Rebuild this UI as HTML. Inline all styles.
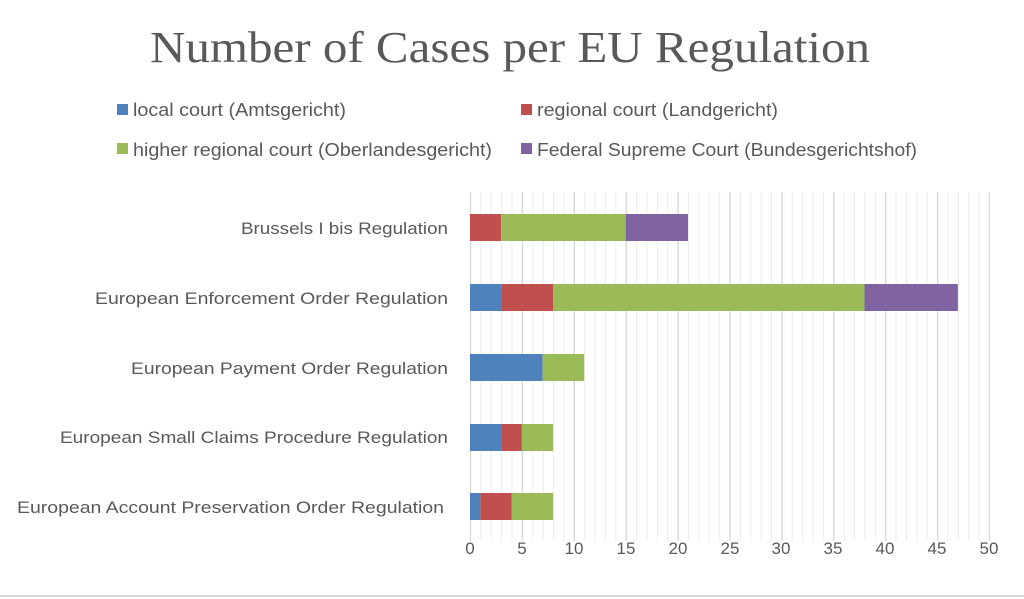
<!DOCTYPE html>
<html><head><meta charset="utf-8"><style>
html,body{margin:0;padding:0;background:#fff;}
svg{display:block;}
text{font-family:"Liberation Sans",sans-serif;fill:#595959;}
</style></head><body>
<svg width="1024" height="599" viewBox="0 0 1024 599" xmlns="http://www.w3.org/2000/svg">
<defs>
<pattern id="mg" x="470" y="0" width="10.38" height="20" patternUnits="userSpaceOnUse">
<rect x="0" y="0" width="1" height="20" fill="#ececec"/>
</pattern>
</defs>
<rect x="0" y="0" width="1024" height="599" fill="#fff"/>
<line x1="0" y1="596" x2="1024" y2="596" stroke="#d9d9d9" stroke-width="2"/>
<text x="510" y="62" text-anchor="middle" font-size="44" textLength="720" lengthAdjust="spacingAndGlyphs" style="font-family:'Liberation Serif',serif">Number of Cases per EU Regulation</text>
<rect x="117" y="104" width="11" height="11" fill="#4f81bd"/>
<text x="133" y="116" font-size="18" textLength="213" lengthAdjust="spacingAndGlyphs">local court (Amtsgericht)</text>
<rect x="521" y="104" width="11" height="11" fill="#c0504d"/>
<text x="537" y="116" font-size="18" textLength="241" lengthAdjust="spacingAndGlyphs">regional court (Landgericht)</text>
<rect x="117" y="143" width="11" height="11" fill="#9bbb59"/>
<text x="133" y="156" font-size="18" textLength="359" lengthAdjust="spacingAndGlyphs">higher regional court (Oberlandesgericht)</text>
<rect x="521" y="143" width="11" height="11" fill="#8064a2"/>
<text x="537" y="156" font-size="18" textLength="380" lengthAdjust="spacingAndGlyphs">Federal Supreme Court (Bundesgerichtshof)</text>

<rect x="469.5" y="192" width="521" height="349" fill="url(#mg)"/>
<g stroke="#d9d9d9" stroke-width="1.4">
<line x1="470.5" y1="192" x2="470.5" y2="541"/>
<line x1="522.4" y1="192" x2="522.4" y2="541"/>
<line x1="574.3" y1="192" x2="574.3" y2="541"/>
<line x1="626.2" y1="192" x2="626.2" y2="541"/>
<line x1="678.1" y1="192" x2="678.1" y2="541"/>
<line x1="730" y1="192" x2="730" y2="541"/>
<line x1="781.9" y1="192" x2="781.9" y2="541"/>
<line x1="833.8" y1="192" x2="833.8" y2="541"/>
<line x1="885.7" y1="192" x2="885.7" y2="541"/>
<line x1="937.6" y1="192" x2="937.6" y2="541"/>
<line x1="989.5" y1="192" x2="989.5" y2="541"/>
</g>

<text x="470" y="554" text-anchor="middle" font-size="17">0</text>
<text x="522" y="554" text-anchor="middle" font-size="17">5</text>
<text x="574" y="554" text-anchor="middle" font-size="17">10</text>
<text x="626" y="554" text-anchor="middle" font-size="17">15</text>
<text x="678" y="554" text-anchor="middle" font-size="17">20</text>
<text x="730" y="554" text-anchor="middle" font-size="17">25</text>
<text x="781" y="554" text-anchor="middle" font-size="17">30</text>
<text x="833" y="554" text-anchor="middle" font-size="17">35</text>
<text x="885" y="554" text-anchor="middle" font-size="17">40</text>
<text x="937" y="554" text-anchor="middle" font-size="17">45</text>
<text x="989" y="554" text-anchor="middle" font-size="17">50</text>

<text x="448" y="234" text-anchor="end" font-size="17" textLength="207" lengthAdjust="spacingAndGlyphs">Brussels I bis Regulation</text>
<text x="448" y="304" text-anchor="end" font-size="17" textLength="353" lengthAdjust="spacingAndGlyphs">European Enforcement Order Regulation</text>
<text x="448" y="374" text-anchor="end" font-size="17" textLength="317" lengthAdjust="spacingAndGlyphs">European Payment Order Regulation</text>
<text x="448" y="443" text-anchor="end" font-size="17" textLength="388" lengthAdjust="spacingAndGlyphs">European Small Claims Procedure Regulation</text>
<text x="444" y="513" text-anchor="end" font-size="17" textLength="427" lengthAdjust="spacingAndGlyphs">European Account Preservation Order Regulation</text>

<rect x="470" y="214" width="31.14" height="27" fill="#c0504d"/>
<rect x="501.14" y="214" width="124.56" height="27" fill="#9bbb59"/>
<rect x="625.7" y="214" width="62.28" height="27" fill="#8064a2"/>

<rect x="470" y="284" width="31.14" height="27" fill="#4f81bd"/>
<rect x="501.14" y="284" width="51.9" height="27" fill="#c0504d"/>
<rect x="553.04" y="284" width="311.4" height="27" fill="#9bbb59"/>
<rect x="864.44" y="284" width="93.42" height="27" fill="#8064a2"/>

<rect x="470" y="354" width="72.66" height="27" fill="#4f81bd"/>
<rect x="542.66" y="354" width="41.52" height="27" fill="#9bbb59"/>

<rect x="470" y="424" width="31.14" height="27" fill="#4f81bd"/>
<rect x="501.14" y="424" width="20.76" height="27" fill="#c0504d"/>
<rect x="521.9" y="424" width="31.14" height="27" fill="#9bbb59"/>

<rect x="470" y="493" width="10.38" height="27" fill="#4f81bd"/>
<rect x="480.38" y="493" width="31.14" height="27" fill="#c0504d"/>
<rect x="511.52" y="493" width="41.52" height="27" fill="#9bbb59"/>
</svg>
</body></html>
